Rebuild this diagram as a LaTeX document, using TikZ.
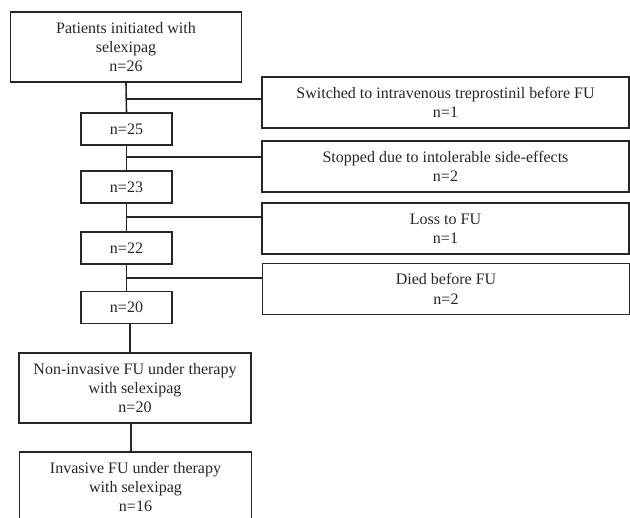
\documentclass[tikz,border=0pt]{standalone}
\usepackage{fontspec}
\setmainfont{Liberation Serif}
\usetikzlibrary{positioning}

\tikzset{
  box/.style={draw=black!85, line width=1.2pt, align=center, inner sep=0pt, text=black!85, font=\fontsize{12}{14.5}\selectfont},
  bigbox/.style={box, minimum width=173pt, minimum height=52.5pt},
  smallbox/.style={box, minimum width=68.25pt, minimum height=24pt},
  sidebox/.style={box, minimum width=275pt, minimum height=38.25pt},
  link/.style={draw=black!85, line width=1.2pt}
}

\begin{document}
\begin{tikzpicture}[x=0.75pt, y=-0.75pt]
		\useasboundingbox (0,0) rectangle (630,517);
		\clip (0,0) rectangle (630,517);

		% main column
		\node[bigbox] (start) at (126, 47) {Patients initiated with\\selexipag\\n=26};
		\node[smallbox] (n25) at (126.5, 129) {n=25};
		\node[smallbox] (n23) at (126.5, 187) {n=23};
		\node[smallbox] (n22) at (126.5, 248) {n=22};
		\node[smallbox] (n20) at (126.5, 307.5) {n=20};
		\node[bigbox, minimum width=174pt] (noninv) at (135, 388) {Non-invasive FU under therapy\\with selexipag\\n=20};
		\node[bigbox, minimum width=174pt] (inv) at (135.5, 487) {Invasive FU under therapy\\with selexipag\\n=16};

		% exclusions
		\node[sidebox] (switched) at (445.5, 102.5) {Switched to intravenous treprostinil before FU\\n=1};
		\node[sidebox] (stopped) at (445.5, 166.5) {Stopped due to intolerable side-effects\\n=2};
		\node[sidebox] (lost) at (445.5, 228.5) {Loss to FU\\n=1};
		\node[sidebox] (died) at (446, 289) {Died before FU\\n=2};

		\draw [link] (start.south) -- (n25.north);
		\draw [link] (n25.south) -- (n23.north);
		\draw [link] (n23.south) -- (n22.north);
		\draw [link] (n22.south) -- (n20.north);
		\draw [link] (n20.south -| 130,0) -- (noninv.north -| 130,0);
		\draw [link] (noninv.south -| 131,0) -- (inv.north -| 131,0);

		\draw [link] (start.south |- 0,99) -- (switched.west |- 0,99);
		\draw [link] (n25.south |- 0,157) -- (stopped.west |- 0,157);
		\draw [link] (n23.south |- 0,217) -- (lost.west |- 0,217);
		\draw [link] (n22.south |- 0,278) -- (died.west |- 0,278);
	\end{tikzpicture}
\end{document}
